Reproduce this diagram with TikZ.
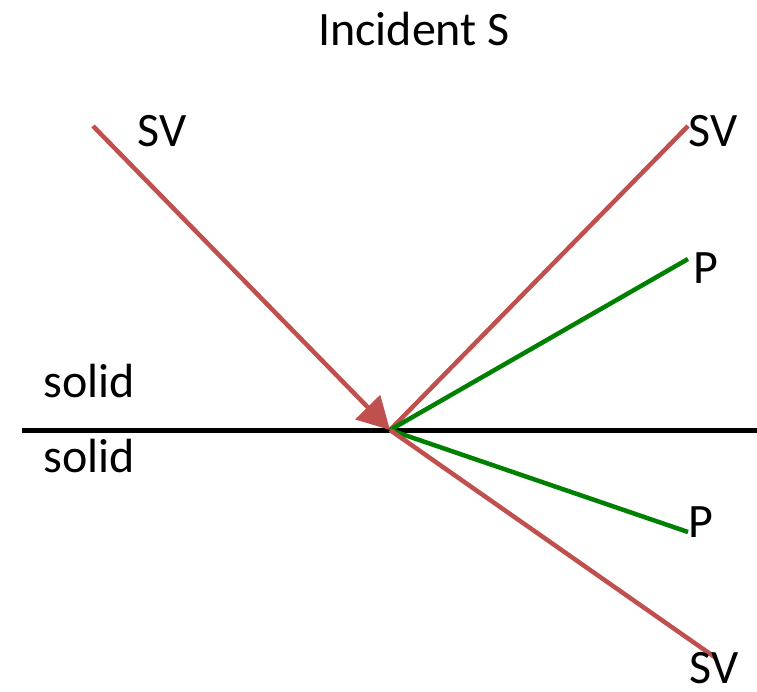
\documentclass[tikz,border=0pt]{standalone}
\usepackage{fontspec}
\setmainfont{Carlito}
\usetikzlibrary{arrows.meta}
\definecolor{wavered}{HTML}{C0504D}
\definecolor{wavegreen}{HTML}{008000}
\begin{document}
\begin{tikzpicture}[x=1pt,y=-1pt,
  lbl/.style={font=\fontsize{48}{56}\selectfont, inner sep=0pt},
  svray/.style={draw=wavered, line width=4.5pt},
  pray/.style={draw=wavegreen, line width=4.5pt}]
\useasboundingbox (0,0) rectangle (757,691);
% interface
\coordinate (il) at (22,430);
\coordinate (ir) at (757,430);
\draw[line width=5pt] (il) -- (ir);
% ray end points
\coordinate (o) at (390,430);
\coordinate (inc) at (93,126);
\coordinate (rsv) at (688,126);
\coordinate (rp) at (688,259);
\coordinate (tp) at (688,532);
\coordinate (tsv) at (716,658);
% rays
\draw[svray, -{Triangle[length=32pt,width=34pt]}] (inc) -- (o);
\draw[svray] (o) -- (rsv);
\draw[pray] (o) -- (rp);
\draw[pray] (o) -- (tp);
\draw[svray] (o) -- (tsv);
% labels
\node[lbl] (title) at (414,29) {Incident S};
\node[lbl] (l1) at (162,131) {SV};
\node[lbl] (l2) at (713,131) {SV};
\node[lbl] (l3) at (706,268) {P};
\node[lbl] (l4) at (701,522) {P};
\node[lbl] (l5) at (714,668) {SV};
\node[lbl] (s1) at (89,381) {solid};
\node[lbl] (s2) at (89,456) {solid};
\end{tikzpicture}
\end{document}
